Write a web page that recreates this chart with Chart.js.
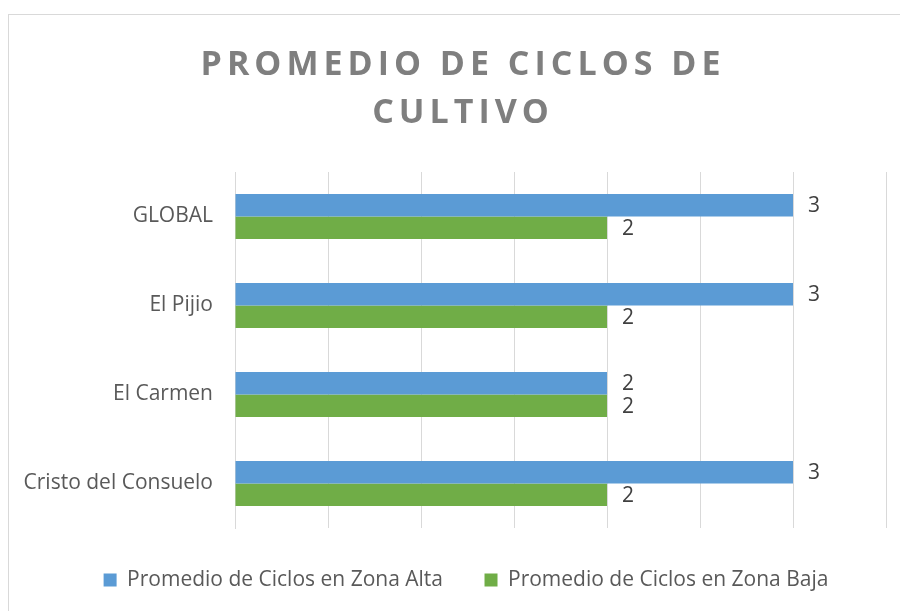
<!DOCTYPE html>
<html><head><meta charset="utf-8">
<script src="https://cdn.jsdelivr.net/npm/chart.js@4.4.1/dist/chart.umd.min.js"></script>
<style>
html,body{margin:0;padding:0;background:#fff;width:900px;height:611px;overflow:hidden;}
#frame{position:absolute;left:8px;top:14px;width:920px;height:640px;border:1px solid #d9d9d9;box-sizing:border-box;}
#c{position:absolute;left:0;top:0;}
</style></head><body>
<div id="frame"></div>
<canvas id="c" width="900" height="611"></canvas>
<script>
const categories = ['GLOBAL', 'El Pijio', 'El Carmen', 'Cristo del Consuelo'];
const zonaAlta = [3, 3, 2, 3];
const zonaBaja = [2, 2, 2, 2];
const seriesNames = ['Promedio de Ciclos en Zona Alta', 'Promedio de Ciclos en Zona Baja'];
const titleLines = ['PROMEDIO DE CICLOS DE', 'CULTIVO'];
const axisMin = 0, axisMax = 3.5, axisStep = 0.5;

const FONT = '"Open Sans", "Noto Sans", sans-serif';

// Shifts the title (with letter spacing) and legend to match the frame centring
const boxShift = {
  id: 'boxShift',
  afterLayout(chart) {
    const tb = chart.titleBlock;
    if (tb && !tb._shifted) {
      const orig = tb.draw;
      tb.draw = function (a) {
        const ctx = this.ctx;
        ctx.save();
        ctx.letterSpacing = '5px';
        ctx.translate(20, 0);
        orig.call(this, a);
        ctx.restore();
      };
      tb._shifted = true;
    }
    const lg = chart.legend;
    if (lg && !lg._shifted) {
      const origL = lg.draw;
      lg.draw = function (a) {
        const ctx = this.ctx;
        ctx.save();
        ctx.translate(23, 0);
        origL.call(this, a);
        ctx.restore();
      };
      lg._shifted = true;
    }
  }
};

const valueLabels = {
  id: 'valueLabels',
  afterDatasetsDraw(chart) {
    const ctx = chart.ctx;
    ctx.save();
    ctx.font = '21px ' + FONT;
    ctx.fillStyle = '#404040';
    ctx.textAlign = 'left';
    ctx.textBaseline = 'middle';
    chart.data.datasets.forEach((ds, i) => {
      const meta = chart.getDatasetMeta(i);
      meta.data.forEach((el, j) => {
        ctx.fillText(String(ds.data[j]), el.x + 15, el.y + 1);
      });
    });
    ctx.restore();
  }
};

new Chart(document.getElementById('c'), {
  type: 'bar',
  data: {
    labels: categories,
    datasets: [
      { label: seriesNames[0], data: zonaAlta, backgroundColor: '#5B9BD5', borderWidth: 0,
        categoryPercentage: 0.505, barPercentage: 1 },
      { label: seriesNames[1], data: zonaBaja, backgroundColor: '#70AD47', borderWidth: 0,
        categoryPercentage: 0.505, barPercentage: 1 }
    ]
  },
  options: {
    indexAxis: 'y',
    responsive: false,
    animation: false,
    layout: { padding: { top: 0, left: 0, right: 14, bottom: 10.5 } },
    plugins: {
      title: {
        display: true,
        text: titleLines,
        color: '#7f7f7f',
        font: { family: FONT, size: 34, weight: 'bold', lineHeight: 48 / 34 },
        padding: { top: 41.5, bottom: 34.5 }
      },
      legend: {
        display: true,
        position: 'bottom',
        labels: {
          font: { family: FONT, size: 21 },
          color: '#595959',
          boxWidth: 13,
          boxHeight: 13,
          padding: 41.5
        }
      },
      tooltip: { enabled: false }
    },
    scales: {
      x: {
        min: axisMin,
        max: axisMax,
        ticks: { display: false, stepSize: axisStep },
        grid: { color: '#d9d9d9', lineWidth: 1, drawTicks: false },
        border: { display: false }
      },
      y: {
        ticks: { font: { family: FONT, size: 21 }, color: '#595959', padding: 22 },
        grid: { display: false, drawTicks: false },
        border: { display: true, color: '#d9d9d9', width: 1 },
        afterFit(scale) { scale.width = 235; }
      }
    }
  },
  plugins: [boxShift, valueLabels]
});
</script>
</body></html>
